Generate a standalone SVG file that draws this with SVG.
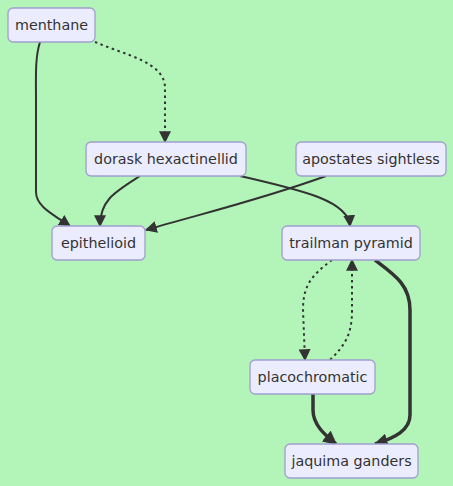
<svg xmlns="http://www.w3.org/2000/svg" width="453" height="486" viewBox="0 0 453 486">
<style>
.node rect{fill:#ECECFF;stroke:#9F9FCF;stroke-width:1.3}
.node text{font-family:"DejaVu Sans","Liberation Sans",sans-serif;font-size:14.3px;fill:#333;text-anchor:middle;dominant-baseline:central}
.e{fill:none;stroke:#333;stroke-width:2}
.d{stroke-dasharray:2.5 3.5}
.t{stroke-width:3.5}
</style>
<defs>
<marker id="b" viewBox="0 0 10 10" refX="9" refY="5" markerWidth="12" markerHeight="12" orient="auto" markerUnits="userSpaceOnUse"><path d="M0,0L10,5L0,10z" fill="#333"/></marker>
<marker id="c" viewBox="0 0 10 10" refX="9" refY="5" markerWidth="14" markerHeight="14" orient="auto" markerUnits="userSpaceOnUse"><path d="M0,0L10,5L0,10z" fill="#333"/></marker>
</defs>
<rect width="453" height="486" fill="#B3F5B9"/>
<g id="connectors">
<path class="e" d="M40,42 C35,58 36,75 36,100 L36,192 C36,206 52,214 70,226" marker-end="url(#b)"/>
<path class="e d" d="M95,42 C125,55 165,62 165,88 L165,142" marker-end="url(#b)"/>
<path class="e" d="M140,176 C115,192 100,200 100,226" marker-end="url(#b)"/>
<path class="e" d="M240,176 C300,190 348,200 350,226" marker-end="url(#b)"/>
<path class="e" d="M326,176 C260,200 200,214 146,230" marker-end="url(#b)"/>
<path class="e d" d="M332,260 C312,275 303,285 303,310 L305,360" marker-end="url(#b)"/>
<path class="e d" d="M330,360 C345,345 352,335 352,310 L352,260" marker-end="url(#b)"/>
<path class="e t" d="M375,260 C395,275 410,285 410,310 L410,415 C410,430 395,438 375,444" marker-end="url(#c)"/>
<path class="e t" d="M313,394 L313,410 C313,425 325,435 336,444" marker-end="url(#c)"/>
</g>
<g id="menthane" class="node"><rect x="8" y="8" width="87" height="34" rx="5"/><text x="51.5" y="25">menthane</text></g>
<g id="dorask" class="node"><rect x="86" y="142" width="160" height="34" rx="5"/><text x="166" y="159">dorask hexactinellid</text></g>
<g id="apostates" class="node"><rect x="296" y="142" width="150" height="34" rx="5"/><text x="371" y="159">apostates sightless</text></g>
<g id="epithelioid" class="node"><rect x="52" y="226" width="93" height="34" rx="5"/><text x="98.5" y="243">epithelioid</text></g>
<g id="trailman" class="node"><rect x="282" y="226" width="138" height="34" rx="5"/><text x="351" y="243">trailman pyramid</text></g>
<g id="placochromatic" class="node"><rect x="250" y="360" width="125" height="34" rx="5"/><text x="312.5" y="377">placochromatic</text></g>
<g id="jaquima" class="node"><rect x="285" y="444" width="133" height="34" rx="5"/><text x="351.5" y="461">jaquima ganders</text></g>
</svg>
